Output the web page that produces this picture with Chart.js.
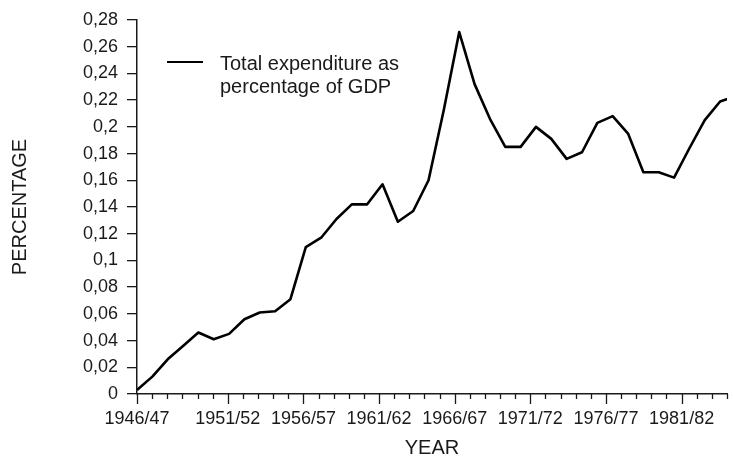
<!DOCTYPE html>
<html>
<head>
<meta charset="utf-8">
<script src="https://cdn.jsdelivr.net/npm/chart.js@4.4.1/dist/chart.umd.min.js"></script>
<style>
    html, body { margin: 0; padding: 0; background: #fff; }
    canvas { display: block; }
</style>
</head>
<body>
<canvas id="myChart" width="733" height="465"></canvas>
<script>
// labelled years and the slot (year index) each one sits under
const tickYears = ['1946/47', '1951/52', '1956/57', '1961/62', '1966/67', '1971/72', '1976/77', '1981/82'];
const tickSlots = [0, 6, 11, 16, 21, 26, 31, 36];
const yearCount = 40;

// total expenditure as share of GDP, one value per year
const expenditure = [
    0.003, 0.013, 0.026, 0.036, 0.046, 0.041, 0.045, 0.056, 0.061, 0.062,
    0.071, 0.110, 0.117, 0.131, 0.142, 0.142, 0.157, 0.129, 0.137, 0.160,
    0.213, 0.271, 0.232, 0.206, 0.185, 0.185, 0.200, 0.191, 0.176, 0.181,
    0.203, 0.208, 0.195, 0.166, 0.166, 0.162, 0.184, 0.205, 0.219, 0.223
];

const seriesName = ['Total expenditure as', 'percentage of GDP'];

const FONT = "'Liberation Sans', Arial, sans-serif";
const INK = '#1a1a1a';

const yearLabels = [];
for (let i = 0; i < yearCount; i++) {
    const k = tickSlots.indexOf(i);
    yearLabels.push(k >= 0 ? tickYears[k] : '');
}

// short ticks for every year, long ones under the labelled years
const yearTicks = {
    id: 'yearTicks',
    afterDraw(chart) {
        const { ctx } = chart;
        const x = chart.scales.x;
        ctx.save();
        ctx.strokeStyle = INK;
        ctx.lineWidth = 1.3;
        x.ticks.forEach((t, i) => {
            const px = Math.round(x.getPixelForTick(i)) + 0.5;
            const len = t.label ? 10 : 5;
            ctx.beginPath();
            ctx.moveTo(px, x.top);
            ctx.lineTo(px, x.top + len);
            ctx.stroke();
        });
        ctx.restore();
    }
};

// key drawn inside the plot, top left
const insideKey = {
    id: 'insideKey',
    afterDraw(chart) {
        const { ctx, chartArea } = chart;
        const ds = chart.data.datasets[0];
        const x0 = chartArea.left + 30;
        const y0 = chartArea.top + 42;
        ctx.save();
        ctx.strokeStyle = ds.borderColor;
        ctx.lineWidth = 2;
        ctx.beginPath();
        ctx.moveTo(x0, y0);
        ctx.lineTo(x0 + 36, y0);
        ctx.stroke();
        ctx.fillStyle = INK;
        ctx.font = '20px ' + FONT;
        ctx.textAlign = 'left';
        ctx.textBaseline = 'alphabetic';
        seriesName.forEach((line, i) => {
            ctx.fillText(line, x0 + 53, y0 + 8 + i * 23);
        });
        ctx.restore();
    }
};

const ctx = document.querySelector('#myChart').getContext('2d');
const config = {
    type: 'line',
    data: {
        labels: yearLabels,
        datasets: [{
            label: seriesName.join(' '),
            data: expenditure.map((v, i) => ({ x: i, y: v })),
            xAxisID: 'xData',
            borderColor: '#000',
            borderWidth: 2.6,
            borderJoinStyle: 'round',
            pointRadius: 0,
            tension: 0,
            fill: false
        }]
    },
    options: {
        responsive: false,
        animation: false,
        layout: { padding: { top: 20, right: 0, bottom: 0, left: 0 } },
        plugins: {
            legend: { display: false },
            tooltip: { enabled: false }
        },
        scales: {
            x: {
                type: 'category',
                grid: { display: false },
                border: { display: true, color: INK, width: 1.5 },
                ticks: {
                    autoSkip: false,
                    maxRotation: 0,
                    minRotation: 0,
                    padding: 6,
                    color: INK,
                    font: { family: FONT, size: 18 }
                },
                title: {
                    display: true,
                    text: 'YEAR',
                    color: INK,
                    font: { family: FONT, size: 20 },
                    padding: { top: 5, bottom: 5 }
                },
                afterFit: (scale) => { scale.height = 71; }
            },
            xData: {
                type: 'linear',
                display: false,
                min: 0,
                max: 38.45
            },
            y: {
                min: 0,
                max: 0.28,
                grid: {
                    drawOnChartArea: false,
                    drawTicks: true,
                    tickLength: 10,
                    color: INK,
                    lineWidth: 1.3
                },
                border: { display: true, color: INK, width: 1.5 },
                ticks: {
                    stepSize: 0.02,
                    padding: 9,
                    color: INK,
                    font: { family: FONT, size: 18 },
                    callback: (v) => String(Number(v.toFixed(2))).replace('.', ',')
                },
                title: {
                    display: true,
                    text: 'PERCENTAGE',
                    color: INK,
                    font: { family: FONT, size: 20 },
                    padding: { top: 8, bottom: 8 }
                },
                afterFit: (scale) => { scale.width = 137; }
            }
        }
    },
    plugins: [yearTicks, insideKey]
};
new Chart(ctx, config);
</script>
</body>
</html>
